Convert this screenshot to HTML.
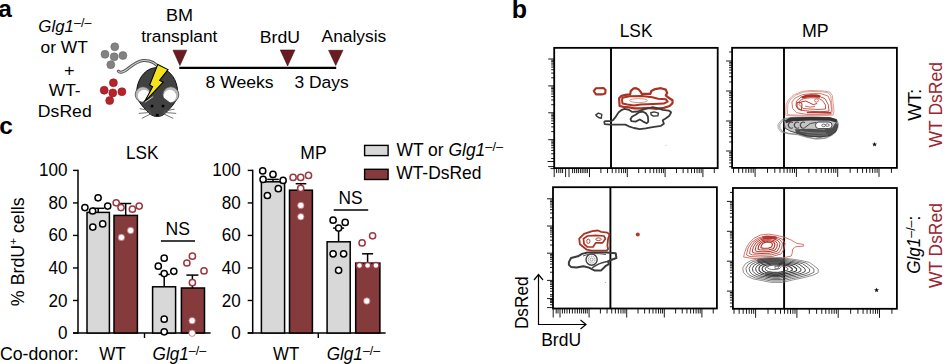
<!DOCTYPE html>
<html><head><meta charset="utf-8"><style>
html,body{margin:0;padding:0;background:#fff;}
svg{display:block;}
text{font-family:"Liberation Sans", sans-serif;}
</style></head><body>
<svg width="946" height="364" viewBox="0 0 946 364">
<rect width="946" height="364" fill="#fff"/>
<text x="-1.7" y="17.3" font-size="24.5" font-weight="bold">a</text>
<text transform="translate(38.37,31.80) scale(0.9797,1)" fill="#000"><tspan font-size="17.2" font-style="italic">Glg1</tspan><tspan font-size="12.8" dy="-5">–/–</tspan></text>
<text transform="translate(40.47,53.40) scale(1.0109,1)" fill="#000"><tspan font-size="17.2">or WT</tspan></text>
<text transform="translate(63.91,76.40) scale(1.0527,1)" fill="#000"><tspan font-size="17.2">+</tspan></text>
<text transform="translate(48.71,95.90) scale(1.0135,1)" fill="#000"><tspan font-size="17.2">WT-</tspan></text>
<text transform="translate(37.85,116.90) scale(1.0246,1)" fill="#000"><tspan font-size="17.2">DsRed</tspan></text>
<circle cx="114.8" cy="46.8" r="4.0" fill="#828282" stroke="#6c6c6c" stroke-width="0.6"/>
<circle cx="105" cy="54.3" r="4.0" fill="#828282" stroke="#6c6c6c" stroke-width="0.6"/>
<circle cx="122.9" cy="55.5" r="4.0" fill="#828282" stroke="#6c6c6c" stroke-width="0.6"/>
<circle cx="114.2" cy="56.8" r="4.0" fill="#828282" stroke="#6c6c6c" stroke-width="0.6"/>
<circle cx="110.8" cy="64.7" r="4.0" fill="#828282" stroke="#6c6c6c" stroke-width="0.6"/>
<circle cx="113.4" cy="82.8" r="4.0" fill="#b5232b" stroke="#8e1a20" stroke-width="0.6"/>
<circle cx="104.2" cy="90.2" r="4.0" fill="#b5232b" stroke="#8e1a20" stroke-width="0.6"/>
<circle cx="121.9" cy="91.7" r="4.0" fill="#b5232b" stroke="#8e1a20" stroke-width="0.6"/>
<circle cx="112.8" cy="92.9" r="4.0" fill="#b5232b" stroke="#8e1a20" stroke-width="0.6"/>
<circle cx="109.7" cy="100.6" r="4.0" fill="#b5232b" stroke="#8e1a20" stroke-width="0.6"/>
<path d="M158.8,68 C155,61.5 149,60.2 143,60.5 C137,61.2 132,65.5 127.5,69 C123.5,72.3 119.8,73.2 118.4,71.2" fill="none" stroke="#555" stroke-width="3.1" stroke-linecap="round"/>
<path d="M158.8,68 C155,61.5 149,60.2 143,60.5 C137,61.2 132,65.5 127.5,69 C123.5,72.3 119.8,73.2 118.4,71.2" fill="none" stroke="#d0d0d0" stroke-width="1.1" stroke-linecap="round"/>
<path d="M157,67.6 C167,67.6 175.5,76 177.3,88 L178,95 C176.5,102 170,109 164.5,113.8 C161,117.4 153.5,117.4 150,113.8 C144.5,109 138,102 136.5,95 L137,88 C139,76 147,67.6 157,67.6 Z" fill="#414141" stroke="#111" stroke-width="1"/>
<circle cx="143" cy="94.5" r="7.8" fill="#b8b8b8" stroke="#4a4a4a" stroke-width="0.8"/>
<circle cx="143.9" cy="95.9" r="6.1" fill="#fdfdfd"/>
<circle cx="170.8" cy="94.7" r="8.0" fill="#b8b8b8" stroke="#4a4a4a" stroke-width="0.8"/>
<circle cx="169.9" cy="96.10000000000001" r="6.3" fill="#fdfdfd"/>
<path d="M148.5,97 C152,95.8 159,95.8 162,96.5 L171.8,103.8 C169,108.5 166,111.5 164.3,113.8 C161,117.4 153.5,117.4 150.2,113.8 C148.3,111.5 145,108.5 141.6,102.8 Z" fill="#414141"/>
<circle cx="152" cy="106" r="1.5" fill="#000"/>
<circle cx="163" cy="106" r="1.5" fill="#000"/>
<ellipse cx="157.3" cy="115" rx="1.7" ry="1.3" fill="#000"/>
<path d="M151,111.2 L139.8,108.6" stroke="#5a5a5a" stroke-width="0.85" fill="none"/>
<path d="M151,112.4 L138.8,113.4" stroke="#5a5a5a" stroke-width="0.85" fill="none"/>
<path d="M151.5,113.5 L141.8,118.4" stroke="#5a5a5a" stroke-width="0.85" fill="none"/>
<path d="M163.5,111.2 L174.6,109.2" stroke="#5a5a5a" stroke-width="0.85" fill="none"/>
<path d="M163.5,112.4 L176.2,113.4" stroke="#5a5a5a" stroke-width="0.85" fill="none"/>
<path d="M163,113.5 L173.2,118.4" stroke="#5a5a5a" stroke-width="0.85" fill="none"/>
<path d="M157.8,64.4 L168,69.6 L159.6,80.4 L163.2,82.2 L144.6,101.8 L152.6,86.8 L149.6,85 Z" fill="#f3e31b" stroke="#000" stroke-width="1.1" stroke-linejoin="miter"/>
<path d="M144.8,102.3 L153.2,96.6" stroke="#f4f4f4" stroke-width="0.8"/>
<text transform="translate(165.92,20.90) scale(1.0488,1)" fill="#000"><tspan font-size="17.2">BM</tspan></text>
<text transform="translate(141.24,42.30) scale(1.0085,1)" fill="#000"><tspan font-size="17.2">transplant</tspan></text>
<text transform="translate(259.85,42.50) scale(1.0262,1)" fill="#000"><tspan font-size="17.2">BrdU</tspan></text>
<text transform="translate(321.57,42.30) scale(1.0111,1)" fill="#000"><tspan font-size="17.2">Analysis</tspan></text>
<line x1="179.3" y1="67.8" x2="336.2" y2="67.8" stroke="#000" stroke-width="2.3"/>
<polygon points="173,50.2 186.8,50.2 179.9,65.5" fill="#6b1a1f" stroke="#3c0d10" stroke-width="0.6" stroke-linejoin="round"/>
<polygon points="280.3,50 294.9,50 287.6,66" fill="#6b1a1f" stroke="#3c0d10" stroke-width="0.6" stroke-linejoin="round"/>
<polygon points="328.6,50.3 342.9,50.3 335.75,65.5" fill="#6b1a1f" stroke="#3c0d10" stroke-width="0.6" stroke-linejoin="round"/>
<text transform="translate(205.44,87.90) scale(1.0255,1)" fill="#000"><tspan font-size="17.2">8 Weeks</tspan></text>
<text transform="translate(294.44,87.90) scale(1.0143,1)" fill="#000"><tspan font-size="17.2">3 Days</tspan></text>
<text x="-0.8" y="133.6" font-size="24.5" font-weight="bold">c</text>
<text transform="translate(125.94,158.50) scale(0.9760,1)" fill="#000"><tspan font-size="17.6">LSK</tspan></text>
<text transform="translate(300.36,158.50) scale(0.9990,1)" fill="#000"><tspan font-size="17.6">MP</tspan></text>
<line x1="78" y1="169.70000000000002" x2="78" y2="333.7" stroke="#000" stroke-width="1.5"/>
<line x1="73" y1="333.0" x2="78" y2="333.0" stroke="#000" stroke-width="1.4"/>
<text transform="translate(67.40,339.05) scale(0.97,1)" font-size="17.6" text-anchor="end">0</text>
<line x1="73" y1="300.48" x2="78" y2="300.48" stroke="#000" stroke-width="1.4"/>
<text transform="translate(67.40,306.53) scale(0.97,1)" font-size="17.6" text-anchor="end">20</text>
<line x1="73" y1="267.96" x2="78" y2="267.96" stroke="#000" stroke-width="1.4"/>
<text transform="translate(67.40,274.01) scale(0.97,1)" font-size="17.6" text-anchor="end">40</text>
<line x1="73" y1="235.44" x2="78" y2="235.44" stroke="#000" stroke-width="1.4"/>
<text transform="translate(67.40,241.49) scale(0.97,1)" font-size="17.6" text-anchor="end">60</text>
<line x1="73" y1="202.92" x2="78" y2="202.92" stroke="#000" stroke-width="1.4"/>
<text transform="translate(67.40,208.97) scale(0.97,1)" font-size="17.6" text-anchor="end">80</text>
<line x1="73" y1="170.4" x2="78" y2="170.4" stroke="#000" stroke-width="1.4"/>
<text transform="translate(67.40,176.45) scale(0.97,1)" font-size="17.6" text-anchor="end">100</text>
<line x1="73" y1="333" x2="210.6" y2="333" stroke="#000" stroke-width="1.5"/>
<line x1="144.5" y1="333" x2="144.5" y2="338" stroke="#000" stroke-width="1.4"/>
<rect x="87" y="212.4" width="22.400000000000006" height="120.6" fill="#d8d8d8" stroke="#000" stroke-width="1.5"/>
<line x1="98.2" y1="212.4" x2="98.2" y2="208.3" stroke="#000" stroke-width="1.5"/>
<line x1="92.2" y1="208.3" x2="104.2" y2="208.3" stroke="#000" stroke-width="1.5"/>
<rect x="114" y="215.4" width="23.400000000000006" height="117.6" fill="#853a3c" stroke="#000" stroke-width="1.5"/>
<line x1="125.7" y1="215.4" x2="125.7" y2="203.5" stroke="#000" stroke-width="1.5"/>
<line x1="120.10000000000001" y1="203.5" x2="131.3" y2="203.5" stroke="#000" stroke-width="1.5"/>
<rect x="152.6" y="286.8" width="23.0" height="46.19999999999999" fill="#d8d8d8" stroke="#000" stroke-width="1.5"/>
<line x1="164.2" y1="286.8" x2="164.2" y2="274.4" stroke="#000" stroke-width="1.5"/>
<line x1="158.7" y1="274.4" x2="169.7" y2="274.4" stroke="#000" stroke-width="1.5"/>
<rect x="181.4" y="288" width="23.099999999999994" height="45" fill="#853a3c" stroke="#000" stroke-width="1.5"/>
<line x1="192.4" y1="288" x2="192.4" y2="275.1" stroke="#000" stroke-width="1.5"/>
<line x1="186.4" y1="275.1" x2="198.4" y2="275.1" stroke="#000" stroke-width="1.5"/>
<circle cx="98.1" cy="197.8" r="3.1" fill="#fff" stroke="#000" stroke-width="1.5"/>
<circle cx="84.9" cy="207.6" r="3.1" fill="#fff" stroke="#000" stroke-width="1.5"/>
<circle cx="92.6" cy="211" r="3.1" fill="#fff" stroke="#000" stroke-width="1.5"/>
<circle cx="107.7" cy="206.1" r="3.1" fill="#fff" stroke="#000" stroke-width="1.5"/>
<circle cx="92.8" cy="227.1" r="3.1" fill="#fff" stroke="#000" stroke-width="1.5"/>
<circle cx="102.7" cy="223.9" r="3.1" fill="#fff" stroke="#000" stroke-width="1.5"/>
<circle cx="116.2" cy="202.8" r="3.1" fill="#fff" stroke="#9b3842" stroke-width="1.5"/>
<circle cx="121" cy="207.6" r="3.1" fill="#fff" stroke="#9b3842" stroke-width="1.5"/>
<circle cx="132.4" cy="209.2" r="3.1" fill="#fff" stroke="#9b3842" stroke-width="1.5"/>
<circle cx="139.2" cy="206.1" r="3.1" fill="#fff" stroke="#9b3842" stroke-width="1.5"/>
<circle cx="130.6" cy="230.5" r="3.2" fill="#fff" stroke="#c07078" stroke-width="0.8"/>
<circle cx="121.4" cy="237.4" r="3.2" fill="#fff" stroke="#c07078" stroke-width="0.8"/>
<circle cx="164.2" cy="258.2" r="3.1" fill="#fff" stroke="#000" stroke-width="1.5"/>
<circle cx="158.3" cy="266.2" r="3.1" fill="#fff" stroke="#000" stroke-width="1.5"/>
<circle cx="164.2" cy="273.6" r="3.1" fill="#fff" stroke="#000" stroke-width="1.5"/>
<circle cx="173.8" cy="271.3" r="3.1" fill="#fff" stroke="#000" stroke-width="1.5"/>
<circle cx="164.2" cy="319.2" r="3.1" fill="#fff" stroke="#000" stroke-width="1.5"/>
<circle cx="164.2" cy="331.8" r="3.1" fill="#fff" stroke="#000" stroke-width="1.5"/>
<circle cx="192.4" cy="256.2" r="3.1" fill="#fff" stroke="#9b3842" stroke-width="1.5"/>
<circle cx="186.9" cy="263" r="3.1" fill="#fff" stroke="#9b3842" stroke-width="1.5"/>
<circle cx="204" cy="270.9" r="3.1" fill="#fff" stroke="#9b3842" stroke-width="1.5"/>
<circle cx="192.4" cy="282.7" r="3.1" fill="#fff" stroke="#9b3842" stroke-width="1.5"/>
<circle cx="192.1" cy="320.7" r="3.2" fill="#fff" stroke="#c07078" stroke-width="0.8"/>
<circle cx="192.1" cy="333.2" r="3.2" fill="#fff" stroke="#c07078" stroke-width="0.8"/>
<line x1="160.9" y1="241" x2="195" y2="241" stroke="#000" stroke-width="1.5"/>
<text transform="translate(165.46,234.90) scale(1.0003,1)" fill="#000"><tspan font-size="17.6">NS</tspan></text>
<line x1="252.7" y1="169.70000000000002" x2="252.7" y2="333.7" stroke="#000" stroke-width="1.5"/>
<line x1="247.7" y1="333.0" x2="252.7" y2="333.0" stroke="#000" stroke-width="1.4"/>
<text transform="translate(240.70,339.05) scale(0.97,1)" font-size="17.6" text-anchor="end">0</text>
<line x1="247.7" y1="300.48" x2="252.7" y2="300.48" stroke="#000" stroke-width="1.4"/>
<text transform="translate(240.70,306.53) scale(0.97,1)" font-size="17.6" text-anchor="end">20</text>
<line x1="247.7" y1="267.96" x2="252.7" y2="267.96" stroke="#000" stroke-width="1.4"/>
<text transform="translate(240.70,274.01) scale(0.97,1)" font-size="17.6" text-anchor="end">40</text>
<line x1="247.7" y1="235.44" x2="252.7" y2="235.44" stroke="#000" stroke-width="1.4"/>
<text transform="translate(240.70,241.49) scale(0.97,1)" font-size="17.6" text-anchor="end">60</text>
<line x1="247.7" y1="202.92" x2="252.7" y2="202.92" stroke="#000" stroke-width="1.4"/>
<text transform="translate(240.70,208.97) scale(0.97,1)" font-size="17.6" text-anchor="end">80</text>
<line x1="247.7" y1="170.4" x2="252.7" y2="170.4" stroke="#000" stroke-width="1.4"/>
<text transform="translate(240.70,176.45) scale(0.97,1)" font-size="17.6" text-anchor="end">100</text>
<line x1="247.7" y1="333" x2="385.6" y2="333" stroke="#000" stroke-width="1.5"/>
<line x1="318.3" y1="333" x2="318.3" y2="338" stroke="#000" stroke-width="1.4"/>
<rect x="261.4" y="181.8" width="23.200000000000045" height="151.2" fill="#d8d8d8" stroke="#000" stroke-width="1.5"/>
<line x1="273" y1="181.8" x2="273" y2="179.4" stroke="#000" stroke-width="1.5"/>
<line x1="267.2" y1="179.4" x2="278.8" y2="179.4" stroke="#000" stroke-width="1.5"/>
<rect x="289.5" y="190.2" width="22.899999999999977" height="142.8" fill="#853a3c" stroke="#000" stroke-width="1.5"/>
<line x1="301" y1="190.2" x2="301" y2="183.7" stroke="#000" stroke-width="1.5"/>
<line x1="295.7" y1="183.7" x2="306.3" y2="183.7" stroke="#000" stroke-width="1.5"/>
<rect x="327.1" y="241.8" width="23.099999999999966" height="91.19999999999999" fill="#d8d8d8" stroke="#000" stroke-width="1.5"/>
<line x1="338.6" y1="241.8" x2="338.6" y2="228.1" stroke="#000" stroke-width="1.5"/>
<line x1="333.1" y1="228.1" x2="344.1" y2="228.1" stroke="#000" stroke-width="1.5"/>
<rect x="355.7" y="263.1" width="24.19999999999999" height="69.89999999999998" fill="#853a3c" stroke="#000" stroke-width="1.5"/>
<line x1="367.6" y1="263.1" x2="367.6" y2="253.8" stroke="#000" stroke-width="1.5"/>
<line x1="362.1" y1="253.8" x2="373.1" y2="253.8" stroke="#000" stroke-width="1.5"/>
<circle cx="262.7" cy="170.9" r="3.1" fill="#fff" stroke="#000" stroke-width="1.5"/>
<circle cx="273" cy="174.4" r="3.1" fill="#fff" stroke="#000" stroke-width="1.5"/>
<circle cx="263.1" cy="179.4" r="3.1" fill="#fff" stroke="#000" stroke-width="1.5"/>
<circle cx="283.1" cy="180.4" r="3.1" fill="#fff" stroke="#000" stroke-width="1.5"/>
<circle cx="278.3" cy="188.7" r="3.1" fill="#fff" stroke="#000" stroke-width="1.5"/>
<circle cx="267.4" cy="195.5" r="3.1" fill="#fff" stroke="#000" stroke-width="1.5"/>
<circle cx="293.1" cy="177.4" r="3.1" fill="#fff" stroke="#9b3842" stroke-width="1.5"/>
<circle cx="300.7" cy="177.4" r="3.1" fill="#fff" stroke="#9b3842" stroke-width="1.5"/>
<circle cx="308.5" cy="175.4" r="3.1" fill="#fff" stroke="#9b3842" stroke-width="1.5"/>
<circle cx="300.7" cy="188.4" r="3.1" fill="#fff" stroke="#9b3842" stroke-width="1.5"/>
<circle cx="300.8" cy="205.4" r="3.2" fill="#fff" stroke="#c07078" stroke-width="0.8"/>
<circle cx="300.8" cy="216.8" r="3.2" fill="#fff" stroke="#c07078" stroke-width="0.8"/>
<circle cx="333.1" cy="220.2" r="3.1" fill="#fff" stroke="#000" stroke-width="1.5"/>
<circle cx="345.2" cy="222.4" r="3.1" fill="#fff" stroke="#000" stroke-width="1.5"/>
<circle cx="338.6" cy="228.1" r="3.1" fill="#fff" stroke="#000" stroke-width="1.5"/>
<circle cx="333.1" cy="253.8" r="3.1" fill="#fff" stroke="#000" stroke-width="1.5"/>
<circle cx="343.6" cy="253.8" r="3.1" fill="#fff" stroke="#000" stroke-width="1.5"/>
<circle cx="338.6" cy="270.3" r="3.1" fill="#fff" stroke="#000" stroke-width="1.5"/>
<circle cx="372.6" cy="235.8" r="3.1" fill="#fff" stroke="#9b3842" stroke-width="1.5"/>
<circle cx="362.1" cy="242.9" r="3.1" fill="#fff" stroke="#9b3842" stroke-width="1.5"/>
<circle cx="359.5" cy="265.5" r="3.1" fill="#fff" stroke="#9b3842" stroke-width="1.5"/>
<circle cx="367.6" cy="265.5" r="3.1" fill="#fff" stroke="#9b3842" stroke-width="1.5"/>
<circle cx="375.9" cy="265.5" r="3.1" fill="#fff" stroke="#9b3842" stroke-width="1.5"/>
<circle cx="366.8" cy="301" r="3.2" fill="#fff" stroke="#c07078" stroke-width="0.8"/>
<line x1="333.7" y1="209.9" x2="368.2" y2="209.9" stroke="#000" stroke-width="1.5"/>
<text transform="translate(338.48,203.90) scale(0.9868,1)" fill="#000"><tspan font-size="17.6">NS</tspan></text>
<text transform="translate(23.50,306.14) rotate(-90) scale(1.0124,1)" fill="#000"><tspan font-size="17.6">% BrdU</tspan><tspan font-size="11.5" dy="-6.5">+</tspan><tspan font-size="17.6" dy="6.5"> cells</tspan></text>
<text transform="translate(-0.00,359.90) scale(1.0057,1)" fill="#000"><tspan font-size="17.6">Co-donor:</tspan></text>
<text transform="translate(99.31,359.80) scale(0.9674,1)" fill="#000"><tspan font-size="17.6">WT</tspan></text>
<text transform="translate(152.56,360.00) scale(0.9759,1)" fill="#000"><tspan font-size="17.6" font-style="italic">Glg1</tspan><tspan font-size="12.8" dy="-5.2">–/–</tspan></text>
<text transform="translate(273.12,359.80) scale(0.9563,1)" fill="#000"><tspan font-size="17.6">WT</tspan></text>
<text transform="translate(326.66,360.00) scale(0.9740,1)" fill="#000"><tspan font-size="17.6" font-style="italic">Glg1</tspan><tspan font-size="12.8" dy="-5.2">–/–</tspan></text>
<rect x="364.6" y="145.4" width="23.5" height="10.2" fill="#d8d8d8" stroke="#000" stroke-width="1.4"/>
<rect x="364.6" y="169.3" width="23.5" height="10.2" fill="#853a3c" stroke="#000" stroke-width="1.4"/>
<text transform="translate(396.41,155.90) scale(0.9930,1)" fill="#000"><tspan font-size="17.6">WT or </tspan><tspan font-size="17.6" font-style="italic">Glg1</tspan><tspan font-size="12.8" dy="-5.1">–/–</tspan></text>
<text transform="translate(396.21,178.70) scale(0.9914,1)" fill="#000"><tspan font-size="17.6">WT-DsRed</tspan></text>
<text x="511.85" y="17.5" font-size="25" font-weight="bold">b</text>
<text transform="translate(619.68,36.75) scale(0.9870,1)" fill="#000"><tspan font-size="17.6">LSK</tspan></text>
<text transform="translate(801.94,36.50) scale(1.0115,1)" fill="#000"><tspan font-size="17.6">MP</tspan></text>
<rect x="554.2" y="47.85" width="163.5" height="120.25" fill="none" stroke="#000" stroke-width="1.8"/>
<line x1="611" y1="47.85" x2="611" y2="168.1" stroke="#000" stroke-width="1.9"/>
<path d="M548.2,59.00H554.2 M548.2,85.90H554.2 M551.2,77.80H554.2 M551.2,73.07H554.2 M551.2,69.70H554.2 M551.2,67.10H554.2 M551.2,64.97H554.2 M551.2,63.17H554.2 M551.2,61.61H554.2 M551.2,60.23H554.2 M548.2,112.80H554.2 M551.2,104.70H554.2 M551.2,99.97H554.2 M551.2,96.60H554.2 M551.2,94.00H554.2 M551.2,91.87H554.2 M551.2,90.07H554.2 M551.2,88.51H554.2 M551.2,87.13H554.2 M548.2,139.70H554.2 M551.2,131.60H554.2 M551.2,126.87H554.2 M551.2,123.50H554.2 M551.2,120.90H554.2 M551.2,118.77H554.2 M551.2,116.97H554.2 M551.2,115.41H554.2 M551.2,114.03H554.2 M548.2,166.60H554.2 M551.2,158.50H554.2 M551.2,153.77H554.2 M551.2,150.40H554.2 M551.2,147.80H554.2 M551.2,145.67H554.2 M551.2,143.87H554.2 M551.2,142.31H554.2 M551.2,140.93H554.2 M589.50,168.1V177.1 M600.88,168.1V173.1 M607.54,168.1V173.1 M612.26,168.1V173.1 M615.92,168.1V173.1 M618.91,168.1V173.1 M621.44,168.1V173.1 M623.64,168.1V173.1 M625.57,168.1V173.1 M627.30,168.1V177.1 M638.68,168.1V173.1 M645.34,168.1V173.1 M650.06,168.1V173.1 M653.72,168.1V173.1 M656.71,168.1V173.1 M659.24,168.1V173.1 M661.44,168.1V173.1 M663.37,168.1V173.1 M665.10,168.1V177.1 M676.48,168.1V173.1 M683.14,168.1V173.1 M687.86,168.1V173.1 M691.52,168.1V173.1 M694.51,168.1V173.1 M697.04,168.1V173.1 M699.24,168.1V173.1 M701.17,168.1V173.1 M702.90,168.1V177.1 M714.28,168.1V173.1" stroke="#000" stroke-width="0.9" fill="none"/>
<path d="M554.2,168.1V177.1 M565.6,168.1V177.1 M569,168.1V177.1 M556.6,168.1V173.1 M558.8,168.1V173.1 M560.8,168.1V173.1 M562.6,168.1V173.1 M572.6,168.1V173.1 M574.6,168.1V173.1 M576.6,168.1V173.1 M578.4,168.1V173.1 M580.4,168.1V173.1 M582.2,168.1V173.1 M584,168.1V173.1 M585.8,168.1V173.1 M587.4,168.1V173.1" stroke="#000" stroke-width="0.9" fill="none"/>
<rect x="732.1" y="47.8" width="164.79999999999995" height="120.10000000000001" fill="none" stroke="#000" stroke-width="1.8"/>
<line x1="784" y1="47.8" x2="784" y2="167.9" stroke="#000" stroke-width="1.9"/>
<path d="M726.1,61.00H732.1 M729.1,51.97H732.1 M726.1,91.00H732.1 M729.1,81.97H732.1 M729.1,76.69H732.1 M729.1,72.94H732.1 M729.1,70.03H732.1 M729.1,67.66H732.1 M729.1,65.65H732.1 M729.1,63.91H732.1 M729.1,62.37H732.1 M726.1,121.00H732.1 M729.1,111.97H732.1 M729.1,106.69H732.1 M729.1,102.94H732.1 M729.1,100.03H732.1 M729.1,97.66H732.1 M729.1,95.65H732.1 M729.1,93.91H732.1 M729.1,92.37H732.1 M726.1,151.00H732.1 M729.1,141.97H732.1 M729.1,136.69H732.1 M729.1,132.94H732.1 M729.1,130.03H732.1 M729.1,127.66H732.1 M729.1,125.65H732.1 M729.1,123.91H732.1 M729.1,122.37H732.1 M729.1,166.69H732.1 M729.1,162.94H732.1 M729.1,160.03H732.1 M729.1,157.66H732.1 M729.1,155.65H732.1 M729.1,153.91H732.1 M729.1,152.37H732.1 M733.51,167.9V172.9 M738.67,167.9V172.9 M742.67,167.9V172.9 M745.94,167.9V172.9 M748.70,167.9V172.9 M751.10,167.9V172.9 M753.21,167.9V172.9 M755.10,167.9V176.9 M767.53,167.9V172.9 M774.81,167.9V172.9 M779.97,167.9V172.9 M783.97,167.9V172.9 M787.24,167.9V172.9 M790.00,167.9V172.9 M792.40,167.9V172.9 M794.51,167.9V172.9 M796.40,167.9V176.9 M808.83,167.9V172.9 M816.11,167.9V172.9 M821.27,167.9V172.9 M825.27,167.9V172.9 M828.54,167.9V172.9 M831.30,167.9V172.9 M833.70,167.9V172.9 M835.81,167.9V172.9 M837.70,167.9V176.9 M850.13,167.9V172.9 M857.41,167.9V172.9 M862.57,167.9V172.9 M866.57,167.9V172.9 M869.84,167.9V172.9 M872.60,167.9V172.9 M875.00,167.9V172.9 M877.11,167.9V172.9 M879.00,167.9V176.9 M891.43,167.9V172.9" stroke="#000" stroke-width="0.9" fill="none"/>
<rect x="553" y="187.2" width="163.89999999999998" height="121.30000000000001" fill="none" stroke="#000" stroke-width="1.8"/>
<line x1="610.4" y1="187.2" x2="610.4" y2="308.5" stroke="#000" stroke-width="1.9"/>
<path d="M547,198.80H553 M547,226.00H553 M550,217.81H553 M550,213.02H553 M550,209.62H553 M550,206.99H553 M550,204.83H553 M550,203.01H553 M550,201.44H553 M550,200.04H553 M547,253.20H553 M550,245.01H553 M550,240.22H553 M550,236.82H553 M550,234.19H553 M550,232.03H553 M550,230.21H553 M550,228.64H553 M550,227.24H553 M547,280.40H553 M550,272.21H553 M550,267.42H553 M550,264.02H553 M550,261.39H553 M550,259.23H553 M550,257.41H553 M550,255.84H553 M550,254.44H553 M547,307.60H553 M550,299.41H553 M550,294.62H553 M550,291.22H553 M550,288.59H553 M550,286.43H553 M550,284.61H553 M550,283.04H553 M550,281.64H553 M589.10,308.5V317.5 M600.42,308.5V313.5 M607.04,308.5V313.5 M611.74,308.5V313.5 M615.38,308.5V313.5 M618.36,308.5V313.5 M620.88,308.5V313.5 M623.06,308.5V313.5 M624.98,308.5V313.5 M626.70,308.5V317.5 M638.02,308.5V313.5 M644.64,308.5V313.5 M649.34,308.5V313.5 M652.98,308.5V313.5 M655.96,308.5V313.5 M658.48,308.5V313.5 M660.66,308.5V313.5 M662.58,308.5V313.5 M664.30,308.5V317.5 M675.62,308.5V313.5 M682.24,308.5V313.5 M686.94,308.5V313.5 M690.58,308.5V313.5 M693.56,308.5V313.5 M696.08,308.5V313.5 M698.26,308.5V313.5 M700.18,308.5V313.5 M701.90,308.5V317.5 M713.22,308.5V313.5" stroke="#000" stroke-width="0.9" fill="none"/>
<path d="M553.2,308.5V317.5 M560,308.5V317.5 M556.2,308.5V313.5 M558,308.5V313.5 M562.4,308.5V313.5 M564.6,308.5V313.5 M567,308.5V313.5 M569.5,308.5V313.5 M572.4,308.5V313.5 M575,308.5V313.5 M577.4,308.5V313.5 M579.6,308.5V313.5 M581.6,308.5V313.5 M583.6,308.5V313.5 M585.4,308.5V313.5 M587.2,308.5V313.5" stroke="#000" stroke-width="0.9" fill="none"/>
<path d="M547,298.6H553 M550,300.1H553 M550,301.4H553 M550,302.6H553 M550,304.7H553 M550,296.2H553" stroke="#000" stroke-width="0.9" fill="none"/>
<path d="M547.5,161.5H554.2 M550.5,168.6H554.2" stroke="#000" stroke-width="0.9" fill="none"/>
<rect x="732.9" y="188" width="164.0" height="120.80000000000001" fill="none" stroke="#000" stroke-width="1.8"/>
<line x1="784.1" y1="188" x2="784.1" y2="308.8" stroke="#000" stroke-width="1.9"/>
<path d="M726.9,201.40H732.9 M729.9,192.40H732.9 M726.9,231.30H732.9 M729.9,222.30H732.9 M729.9,217.03H732.9 M729.9,213.30H732.9 M729.9,210.40H732.9 M729.9,208.03H732.9 M729.9,206.03H732.9 M729.9,204.30H732.9 M729.9,202.77H732.9 M726.9,261.20H732.9 M729.9,252.20H732.9 M729.9,246.93H732.9 M729.9,243.20H732.9 M729.9,240.30H732.9 M729.9,237.93H732.9 M729.9,235.93H732.9 M729.9,234.20H732.9 M729.9,232.67H732.9 M726.9,291.10H732.9 M729.9,282.10H732.9 M729.9,276.83H732.9 M729.9,273.10H732.9 M729.9,270.20H732.9 M729.9,267.83H732.9 M729.9,265.83H732.9 M729.9,264.10H732.9 M729.9,262.57H732.9 M729.9,306.73H732.9 M729.9,303.00H732.9 M729.9,300.10H732.9 M729.9,297.73H732.9 M729.9,295.73H732.9 M729.9,294.00H732.9 M729.9,292.47H732.9 M734.01,308.8V313.8 M739.17,308.8V313.8 M743.17,308.8V313.8 M746.44,308.8V313.8 M749.20,308.8V313.8 M751.60,308.8V313.8 M753.71,308.8V313.8 M755.60,308.8V317.8 M768.03,308.8V313.8 M775.31,308.8V313.8 M780.47,308.8V313.8 M784.47,308.8V313.8 M787.74,308.8V313.8 M790.50,308.8V313.8 M792.90,308.8V313.8 M795.01,308.8V313.8 M796.90,308.8V317.8 M809.33,308.8V313.8 M816.61,308.8V313.8 M821.77,308.8V313.8 M825.77,308.8V313.8 M829.04,308.8V313.8 M831.80,308.8V313.8 M834.20,308.8V313.8 M836.31,308.8V313.8 M838.20,308.8V317.8 M850.63,308.8V313.8 M857.91,308.8V313.8 M863.07,308.8V313.8 M867.07,308.8V313.8 M870.34,308.8V313.8 M873.10,308.8V313.8 M875.50,308.8V313.8 M877.61,308.8V313.8 M879.50,308.8V317.8 M891.93,308.8V313.8" stroke="#000" stroke-width="0.9" fill="none"/>
<polygon points="874.55,141.90 875.20,143.61 877.02,143.70 875.60,144.84 876.08,146.60 874.55,145.60 873.02,146.60 873.50,144.84 872.08,143.70 873.90,143.61" fill="#111"/>
<polygon points="876.55,287.50 877.20,289.21 879.02,289.30 877.60,290.44 878.08,292.20 876.55,291.20 875.02,292.20 875.50,290.44 874.08,289.30 875.90,289.21" fill="#111"/>
<text transform="translate(920.60,120.69) rotate(-90) scale(1.0518,1)" fill="#000"><tspan font-size="17.6">WT:</tspan></text>
<text transform="translate(942.00,147.49) rotate(-90) scale(0.9986,1)" fill="#99252f"><tspan font-size="17.6">WT DsRed</tspan></text>
<text transform="translate(919.70,273.74) rotate(-90) scale(0.9687,1)" fill="#000"><tspan font-size="17.6" font-style="italic">Glg1</tspan><tspan font-size="12.8" dy="-5.2">–/–</tspan><tspan font-size="17.6" dy="5.2">:</tspan></text>
<text transform="translate(941.90,288.09) rotate(-90) scale(0.9915,1)" fill="#99252f"><tspan font-size="17.6">WT DsRed</tspan></text>
<path d="M538.5,275 V324.5 H586" fill="none" stroke="#000" stroke-width="1.2"/>
<path d="M534,280 L538.5,274.5 L543,280" fill="none" stroke="#000" stroke-width="1.2"/>
<path d="M580.5,320 L586,324.5 L580.5,329" fill="none" stroke="#000" stroke-width="1.2"/>
<text transform="translate(541.16,345.70) scale(0.9948,1)" fill="#000"><tspan font-size="17.6">BrdU</tspan></text>
<text transform="translate(527.60,329.12) rotate(-90) scale(0.9818,1)" fill="#000"><tspan font-size="17.6">DsRed</tspan></text>
<polygon points="619.6,106.0 619.1,98.3 621.5,95.9 625.4,94.9 630.2,94.4 630.7,91.1 633.1,88.7 636.0,88.2 638.8,89.6 640.8,92.0 641.7,93.9 650.4,93.9 651.3,91.1 655.2,89.1 661.0,88.2 665.8,89.6 667.2,93.0 665.8,95.4 668.7,97.8 672.5,100.2 672.5,103.1 669.6,106.0 663.8,107.9 656.2,108.8 648.5,107.9 640.8,108.4 634.0,108.4 629.2,107.4 623.5,106.9" fill="none" stroke="#aa3222" stroke-width="2.2" stroke-linejoin="round" opacity="1"/>
<polygon points="622.5,97.8 629.2,96.3 641.7,95.9 652.3,97.3 658.1,98.8 665.8,99.2 667.7,101.6 663.8,103.6 653.3,104.0 640.8,104.5 634.0,105.5 627.3,104.5 622.5,103.6 622.0,100.2" fill="none" stroke="#aa3222" stroke-width="2.0" stroke-linejoin="round" opacity="1"/>
<ellipse cx="638.5" cy="100.6" rx="9" ry="2" fill="none" stroke="#d58a80" stroke-width="0.9"/>
<polygon points="593.8,91 596,88.2 603.5,88 605.6,90 605.2,93.6 602,94.4 596,94.4" fill="none" stroke="#aa3222" stroke-width="2.1" stroke-linejoin="round"/>
<polygon points="604.3,122.0 604.7,124.1 610.2,124.6 625.4,124.6 628.8,126.3 633.9,128.0 639.8,129.2 645.7,128.4 652.5,127.1 661.0,125.8 663.9,123.7 662.7,120.3 666.0,118.2 669.4,115.7 671.1,112.3 668.6,110.6 662.7,109.8 657.6,108.1 652.5,107.2 647.4,108.5 642.4,109.8 637.3,111.5 632.2,111.9 628.8,109.8 624.6,108.9 621.2,110.2 618.7,112.3 617.0,114.8 615.3,117.4 613.2,119.9 611.1,121.2 605.1,121.2" fill="none" stroke="#3a3a3a" stroke-width="1.8" stroke-linejoin="round" opacity="1"/>
<polygon points="630.5,119.1 631.4,121.2 635.6,121.6 639.8,119.5 643.2,121.6 646.6,123.3 648.3,121.6 647.9,116.5 645.7,113.1 642.4,111.5 639.0,112.3 635.6,114.8 632.2,116.5" fill="none" stroke="#3a3a3a" stroke-width="1.8" stroke-linejoin="round" opacity="1"/>
<polygon points="650.8,112.7 654.2,111.9 658.4,113.1 658.0,115.7 653.4,116.1 651.2,114.8" fill="none" stroke="#3a3a3a" stroke-width="1.4" stroke-linejoin="round" opacity="1"/>
<polygon points="595.8,114.8 598.4,113.1 601.8,114.4 601.3,118.2 599.2,117.8 596.7,116.1" fill="none" stroke="#3a3a3a" stroke-width="1.4" stroke-linejoin="round" opacity="1"/>
<circle cx="666" cy="145.3" r="0.6" fill="#bbb"/>
<polygon points="785.7,115.2 786.1,104.5 788.6,99.5 794.4,94.6 802.6,91.3 810.9,90.5 823.2,90.9 829.8,92.1 832.3,95.4 833.1,102.8 834.0,111.1 833.1,115.2 815.0,116.0 798.5,116.0 788.6,115.6" fill="none" stroke="#d9857c" stroke-width="0.8" stroke-linejoin="round" opacity="1"/>
<polygon points="787.5,114.4 787.8,104.5 790.2,99.8 795.6,95.3 803.2,92.2 810.9,91.4 822.3,91.8 828.5,92.9 830.8,96.0 831.6,102.9 832.4,110.6 831.6,114.4 814.7,115.2 799.4,115.2 790.2,114.8" fill="none" stroke="#d27a70" stroke-width="0.7" stroke-linejoin="round" opacity="1"/>
<polygon points="792.7,108.6 791.9,102.0 795.2,97.9 802.6,94.6 813.3,93.4 821.6,93.8 828.2,96.2 830.7,102.0 831.5,109.4 830.7,113.6 819.1,114.4 806.7,114.4 796.8,112.7" fill="none" stroke="#cc6a5f" stroke-width="0.9" stroke-linejoin="round" opacity="1"/>
<polygon points="796.0,106.1 796.4,101.2 801.0,97.1 808.4,95.8 818.3,95.8 824.9,98.7 828.2,104.5 829.0,111.1 819.1,111.9 809.2,111.1 801.0,110.3" fill="none" stroke="#c25446" stroke-width="1.0" stroke-linejoin="round" opacity="1"/>
<polygon points="799.0,104.5 800.0,100.5 804.0,98.5 811.0,97.8 818.0,98.0 822.5,100.5 825.5,105.0 825.5,109.0 818.0,109.5 810.0,109.0 803.0,108.5" fill="none" stroke="#bf4c3f" stroke-width="0.9" stroke-linejoin="round" opacity="1"/>
<path d="M801.5,96.5 Q806,94 812,94.3 Q817,94 820.5,95.5 L820,97.8 Q814,96.8 808,97.5 Q804,98 802,98.5 Z" fill="#b02c22"/>
<path d="M806.5,111.8 Q818,110.8 831,112 L831,113.6 Q818,113 807,113.3 Z" fill="#b8392e"/>
<path d="M797,103 Q800,101 802,104 L801.5,110 Q798.5,110 797,107.5 Z" fill="none" stroke="#b63a2e" stroke-width="1.1"/>
<path d="M801,102 Q806,99.5 810,103 Q813,106 817,103.5" fill="none" stroke="#b63a2e" stroke-width="1"/>
<path d="M805,106 Q810,108 815,106.5" fill="none" stroke="#c4584c" stroke-width="0.9"/>
<ellipse cx="816.5" cy="100.5" rx="2" ry="1.6" fill="none" stroke="#c4584c" stroke-width="0.8"/>
<polygon points="778.1,124.4 781.3,120.2 785.0,118.3 793.1,117.4 811.3,117.0 829.4,117.4 836.6,119.3 838.5,123.8 837.6,129.2 833.0,134.7 825.8,138.4 815.8,139.2 806.7,137.4 797.7,134.7 788.6,133.8 781.0,131.8 778.2,128.3" fill="none" stroke="#8a8a8a" stroke-width="0.8" stroke-linejoin="round" opacity="1"/>
<polygon points="779.8,124.5 782.8,120.5 786.4,118.7 794.0,117.9 811.3,117.5 828.5,117.9 835.4,119.7 837.2,124.0 836.3,129.1 832.0,134.3 825.1,137.8 815.6,138.6 807.0,136.9 798.4,134.3 789.8,133.5 782.5,131.6 779.9,128.2" fill="none" stroke="#777" stroke-width="0.8" stroke-linejoin="round" opacity="1"/>
<polygon points="784.0,121.0 790.0,118.5 810.0,117.8 830.0,118.0 836.5,120.5 837.5,126.0 835.5,132.0 830.0,135.5 820.0,137.0 808.0,136.0 798.0,133.5 790.0,131.0 785.0,128.0" fill="#c4c4c4" stroke="#4a4a4a" stroke-width="1.0" stroke-linejoin="round" opacity="1"/>
<polygon points="785,120.8 790,117.6 810,116.9 830,117.2 837,119.6 836.5,122.6 830,120.8 810,120.4 792,121.2 786,123.2" fill="#333"/>
<polygon points="795,129.2 810,128.8 824,129.4 832.5,127.5 835.5,122.5 838,126 836,132 830,136 820,137.4 806,136.4 796,133" fill="#3d3d3d" opacity="0.88"/>
<path d="M800,131 Q810,133.5 826,133" fill="none" stroke="#999" stroke-width="0.7"/>
<path d="M806,134.6 Q815,136 828,134.8" fill="none" stroke="#888" stroke-width="0.6"/>
<path d="M793.0,122.6 A3,3 0 1,0 793.0,127.6" fill="none" stroke="#444" stroke-width="1.1"/>
<path d="M799.0,122.6 A3,3 0 1,0 799.0,127.6" fill="none" stroke="#444" stroke-width="1.1"/>
<path d="M805.0,122.6 A3,3 0 1,0 805.0,127.6" fill="none" stroke="#444" stroke-width="1.1"/>
<path d="M805,127.5 Q810,122 816,122.5" fill="none" stroke="#444" stroke-width="1"/>
<rect x="815.5" y="122" width="16.5" height="6.6" rx="3.2" fill="#fafafa" stroke="#404040" stroke-width="1"/>
<ellipse cx="823.6" cy="125.4" rx="1.8" ry="1.3" fill="none" stroke="#555" stroke-width="0.8"/>
<ellipse cx="827.4" cy="125.1" rx="1.8" ry="1.3" fill="none" stroke="#555" stroke-width="0.8"/>
<polygon points="579.2,238.7 584.0,233.9 592.3,231.2 597.8,230.5 601.2,231.9 607.4,232.6 609.5,234.6 608.1,238.7 607.4,245.6 608.1,249.1 606.7,250.6 591.6,250.6 586.8,249.7 579.9,244.2" fill="none" stroke="#aa3222" stroke-width="1.8" stroke-linejoin="round" opacity="1"/>
<polygon points="583.4,238.7 587.5,236.0 595.7,235.3 604.0,236.0 605.4,238.7 602.6,242.9 595.7,242.9 593.0,247.0 587.5,247.0 584.1,244.2" fill="none" stroke="#aa3222" stroke-width="1.7" stroke-linejoin="round" opacity="1"/>
<ellipse cx="588.3" cy="241.3" rx="1.6" ry="2.2" fill="none" stroke="#aa3222" stroke-width="0.9"/>
<ellipse cx="598.5" cy="239.2" rx="2.8" ry="1.3" fill="none" stroke="#aa3222" stroke-width="0.9"/>
<circle cx="637.8" cy="234.4" r="2" fill="#b5352a"/>
<polygon points="568.9,262.1 571.0,258.0 577.9,256.3 582.0,253.9 587.5,252.5 606.7,252.5 615.7,253.2 616.4,258.0 610.9,260.0 608.1,261.4 608.8,264.2 605.4,266.2 601.2,270.4 594.4,270.4 588.9,267.6 583.4,266.2 576.5,267.6 571.0,266.9 568.9,264.9" fill="none" stroke="#3a3a3a" stroke-width="2.0" stroke-linejoin="round" opacity="1"/>
<circle cx="591.6" cy="259.6" r="5.6" fill="none" stroke="#444" stroke-width="1.4"/>
<circle cx="591.6" cy="259.6" r="3.4" fill="none" stroke="#777" stroke-width="0.9" stroke-dasharray="1.2,0.9"/>
<circle cx="591.6" cy="259.6" r="1.5" fill="none" stroke="#777" stroke-width="0.7"/>
<path d="M592,268 Q599,262.5 608.5,261.2" fill="none" stroke="#444" stroke-width="1.5"/>
<path d="M583,256 Q592,252 606,254.5" fill="none" stroke="#555" stroke-width="1"/>
<circle cx="605.5" cy="282.5" r="0.6" fill="#aaa"/>
<polygon points="743.6,257.0 744.5,253.2 746.4,247.6 749.2,243.0 753.9,238.3 760.4,235.0 768.8,234.1 777.3,235.5 784.7,237.3 791.3,240.1 796.9,243.4 803.4,244.4 803.4,246.2 795.9,246.7 792.7,249.0 792.2,253.2 791.3,256.0 782.9,257.9 766.0,258.8 752.0,258.4" fill="none" stroke="#cf6a60" stroke-width="0.9" stroke-linejoin="round" opacity="1"/>
<polygon points="746.5,255.0 748.0,248.0 752.0,242.0 758.0,238.0 766.0,236.0 775.0,236.5 782.0,239.0 785.0,243.0 784.0,249.0 781.0,254.0 772.0,256.5 760.0,257.0 750.0,256.5" fill="none" stroke="#c85a4e" stroke-width="0.9" stroke-linejoin="round" opacity="1"/>
<polygon points="749.4,253.5 750.7,247.5 754.1,242.3 759.3,238.9 766.1,237.2 773.9,237.6 779.9,239.8 782.5,243.2 781.6,248.4 779.0,252.7 771.3,254.8 761.0,255.2 752.4,254.8" fill="none" stroke="#bd4a3e" stroke-width="0.9" stroke-linejoin="round" opacity="1"/>
<polygon points="752.2,252.1 753.3,247.0 756.2,242.7 760.5,239.8 766.3,238.4 772.8,238.7 777.8,240.5 780.0,243.4 779.2,247.7 777.1,251.3 770.6,253.1 762.0,253.5 754.8,253.1" fill="none" stroke="#b63e32" stroke-width="1.0" stroke-linejoin="round" opacity="1"/>
<polygon points="755.1,250.6 756.0,246.5 758.3,243.1 761.8,240.7 766.4,239.6 771.6,239.9 775.7,241.3 777.4,243.6 776.9,247.1 775.1,250.0 769.9,251.5 762.9,251.8 757.1,251.5" fill="none" stroke="#b0352a" stroke-width="1.0" stroke-linejoin="round" opacity="1"/>
<polygon points="758.0,249.1 758.6,246.0 760.4,243.4 763.0,241.6 766.6,240.8 770.5,241.0 773.6,242.1 774.9,243.8 774.5,246.5 773.2,248.7 769.2,249.8 763.9,250.0 759.5,249.8" fill="none" stroke="#ac3025" stroke-width="1.1" stroke-linejoin="round" opacity="1"/>
<polygon points="760.9,247.7 761.3,245.6 762.5,243.8 764.3,242.6 766.7,241.9 769.4,242.1 771.5,242.8 772.4,244.1 772.1,245.8 771.2,247.3 768.5,248.1 764.9,248.2 761.9,248.1" fill="none" stroke="#ac3025" stroke-width="1.1" stroke-linejoin="round" opacity="1"/>
<path d="M762,236.5 Q770,235 777,237 L776,239.5 Q769,238 763,239.5 Z" fill="#b3302a" opacity="0.9"/>
<polygon points="742.7,268.2 745.3,263.8 750.7,260.7 757.8,258.9 766.6,257.6 780.0,257.6 793.3,259.3 802.2,260.7 809.3,262.4 813.7,265.5 818.2,269.1 818.2,272.7 812.8,275.3 802.2,278.0 793.3,279.8 782.6,282.4 771.1,282.4 762.2,280.6 753.3,278.9 747.1,276.2 743.6,272.7" fill="none" stroke="#777" stroke-width="0.8" stroke-linejoin="round" opacity="1"/>
<polygon points="745.9,268.2 748.3,264.3 753.1,261.5 759.5,259.9 767.4,258.7 779.5,258.7 791.5,260.2 799.5,261.5 805.9,263.0 809.8,265.8 813.9,269.0 813.9,272.3 809.0,274.6 799.5,277.1 791.5,278.7 781.8,281.0 771.5,281.0 763.5,279.4 755.5,277.9 749.9,275.4 746.7,272.3" fill="none" stroke="#666" stroke-width="0.9" stroke-linejoin="round" opacity="1"/>
<polygon points="749.2,268.3 751.2,264.7 755.6,262.3 761.2,260.8 768.3,259.8 779.0,259.8 789.6,261.1 796.8,262.3 802.4,263.6 806.0,266.1 809.6,269.0 809.6,271.9 805.2,273.9 796.8,276.1 789.6,277.5 781.1,279.6 771.9,279.6 764.8,278.2 757.6,276.8 752.7,274.7 749.9,271.9" fill="none" stroke="#555" stroke-width="0.9" stroke-linejoin="round" opacity="1"/>
<polygon points="752.4,268.3 754.2,265.2 758.0,263.0 763.0,261.8 769.1,260.9 778.5,260.9 787.8,262.1 794.0,263.0 799.0,264.2 802.1,266.4 805.2,268.9 805.2,271.4 801.5,273.3 794.0,275.1 787.8,276.4 780.3,278.2 772.3,278.2 766.0,277.0 759.8,275.8 755.5,273.9 753.0,271.4" fill="none" stroke="#4a4a4a" stroke-width="1.0" stroke-linejoin="round" opacity="1"/>
<polygon points="755.6,268.3 757.2,265.7 760.4,263.8 764.7,262.7 770.0,262.0 778.0,262.0 786.0,263.0 791.3,263.8 795.6,264.8 798.2,266.7 800.9,268.9 800.9,271.0 797.7,272.6 791.3,274.2 786.0,275.3 779.6,276.8 772.7,276.8 767.3,275.8 762.0,274.7 758.3,273.1 756.2,271.0" fill="none" stroke="#404040" stroke-width="1.0" stroke-linejoin="round" opacity="1"/>
<polygon points="758.9,268.4 760.1,266.1 762.9,264.6 766.4,263.7 770.8,263.1 777.5,263.1 784.1,263.9 788.6,264.6 792.1,265.4 794.4,267.0 796.6,268.8 796.6,270.6 793.9,271.9 788.6,273.2 784.1,274.1 778.8,275.4 773.0,275.4 768.6,274.6 764.1,273.7 761.0,272.4 759.3,270.6" fill="none" stroke="#3a3a3a" stroke-width="1.1" stroke-linejoin="round" opacity="1"/>
<polygon points="762.1,268.4 763.1,266.6 765.3,265.4 768.1,264.7 771.6,264.1 777.0,264.1 782.3,264.8 785.9,265.4 788.7,266.1 790.5,267.3 792.3,268.7 792.3,270.2 790.1,271.2 785.9,272.3 782.3,273.0 778.0,274.1 773.4,274.1 769.9,273.3 766.3,272.7 763.8,271.6 762.4,270.2" fill="none" stroke="#3a3a3a" stroke-width="1.1" stroke-linejoin="round" opacity="1"/>
<polygon points="765.3,268.4 766.1,267.1 767.7,266.2 769.8,265.6 772.5,265.2 776.5,265.2 780.5,265.7 783.2,266.2 785.3,266.7 786.6,267.6 788.0,268.7 788.0,269.8 786.3,270.5 783.2,271.4 780.5,271.9 777.3,272.7 773.8,272.7 771.2,272.1 768.5,271.6 766.6,270.8 765.6,269.8" fill="none" stroke="#444" stroke-width="1.0" stroke-linejoin="round" opacity="1"/>
<path d="M757,259.2 Q770,257.4 784,258.6 L784,262.8 Q770,261.8 758,263.6 Z" fill="#3a3a3a" opacity="0.7"/>
<path d="M765,272.2 Q774,271 783,272 L783,276.8 Q774,278 765.5,276.6 Z" fill="#3a3a3a" opacity="0.55"/>
<ellipse cx="774" cy="267.4" rx="6.5" ry="2.2" fill="#fff" stroke="#555" stroke-width="0.8"/>
<rect x="775" y="266.3" width="3.5" height="2" fill="none" stroke="#555" stroke-width="0.7"/>
</svg>
</body></html>
